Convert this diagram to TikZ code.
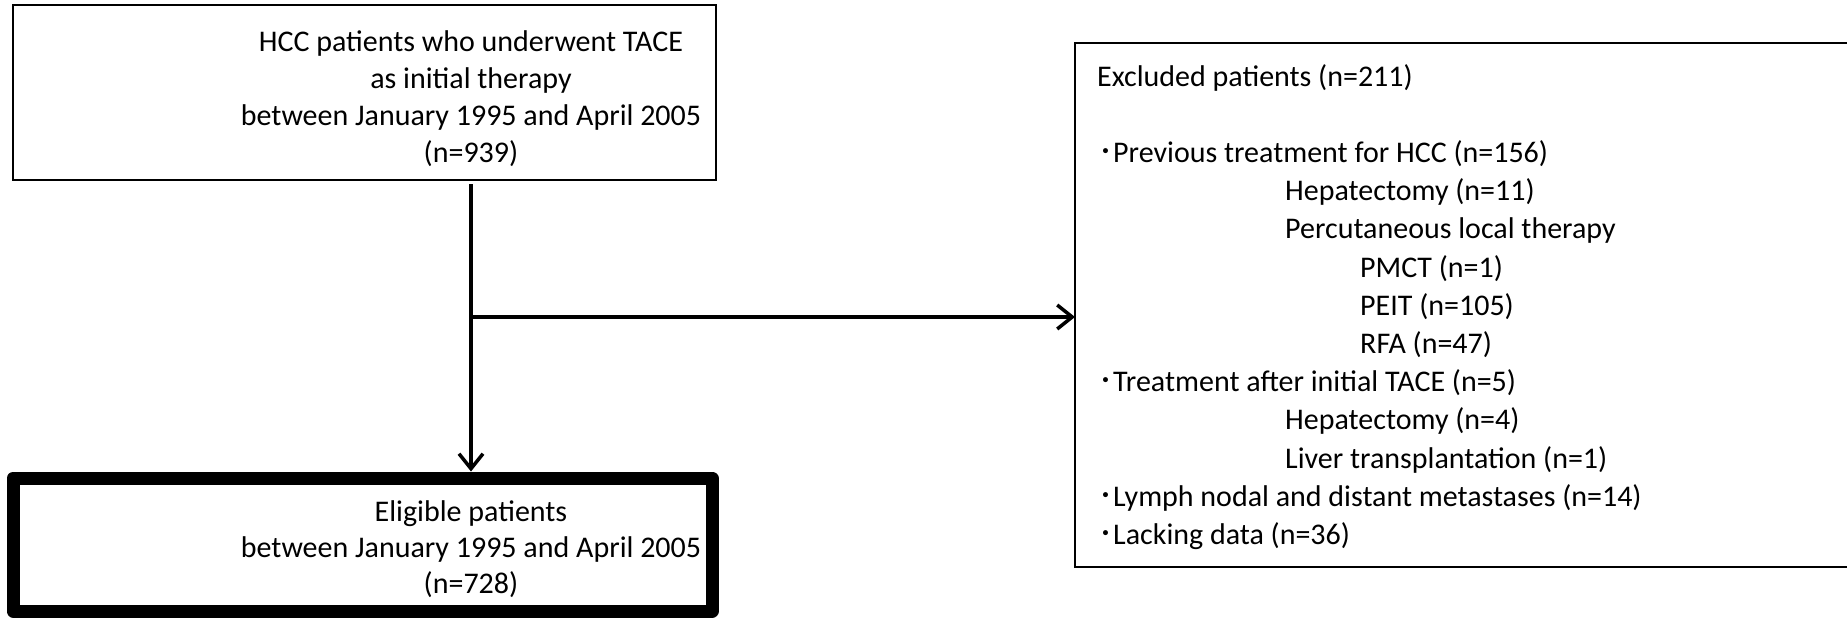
\documentclass[tikz,border=0pt]{standalone}
\usepackage{fontspec}
\setmainfont{Carlito}
\newfontfamily\cjkfont{Noto Sans CJK JP}
\usetikzlibrary{arrows.meta}
\newcommand\bul{{\cjkfont ･}}
\begin{document}
\begin{tikzpicture}[x=1pt,y=-1pt,
  thinbox/.style={draw=black,line width=1.8pt,inner sep=0pt,outer sep=0pt,fill=none},
  thickbox/.style={draw=black,line width=13pt,line join=round,inner sep=0pt,fill=none},
  ltxt/.style={font=\fontsize{30}{37}\selectfont,inner sep=0pt,anchor=base west},
  ctxt/.style={font=\fontsize{30}{37}\selectfont,inner sep=0pt,anchor=base},
  arr/.style={line width=3.5pt,-{Straight Barb[length=15pt,width=24pt]}}
]
\useasboundingbox (0,0) rectangle (1847,619);
\clip (0,0) rectangle (1847,619);
\fill[white] (0,0) rectangle (1847,619);

% top box
\node[thinbox,minimum width=703pt,minimum height=175pt] (top) at (364.5,92.5) {};
\node[ctxt] (t1) at (471,51) {HCC patients who underwent TACE};
\node[ctxt] (t2) at (471,88) {as initial therapy};
\node[ctxt] (t3) at (471,125) {between January 1995 and April 2005};
\node[ctxt] (t4) at (471,162) {(n=939)};

% bottom box
\node[thickbox,minimum width=699pt,minimum height=133pt] (bot) at (362.5,544.5) {};
\node[ctxt] (b1) at (471,521) {Eligible patients};
\node[ctxt] (b2) at (471,557) {between January 1995 and April 2005};
\node[ctxt] (b3) at (471,593) {(n=728)};

% right box
\node[thinbox,minimum width=795pt,minimum height=524pt] (excl) at (1472.5,305) {};
\node[ltxt] (r1) at (1097,86) {Excluded patients (n=211)};
\node[ltxt] (r2) at (1098,162) {\bul Previous treatment for HCC (n=156)};
\node[ltxt] (r3) at (1285,200) {Hepatectomy (n=11)};
\node[ltxt] (r4) at (1285,238) {Percutaneous local therapy};
\node[ltxt] (r5) at (1360,277) {PMCT (n=1)};
\node[ltxt] (r6) at (1360,315) {PEIT (n=105)};
\node[ltxt] (r7) at (1360,353) {RFA (n=47)};
\node[ltxt] (r8) at (1098,391) {\bul Treatment after initial TACE (n=5)};
\node[ltxt] (r9) at (1285,429) {Hepatectomy (n=4)};
\node[ltxt] (r10) at (1285,468) {Liver transplantation (n=1)};
\node[ltxt] (r11) at (1098,506) {\bul Lymph nodal and distant metastases (n=14)};
\node[ltxt] (r12) at (1098,544) {\bul Lacking data (n=36)};

% connectors
\coordinate (j) at (471,317);
\draw[arr] ([yshift=-4pt]t4 |- top.south) -- (t4 |- bot.north);
\draw[arr] ([xshift=-1.75pt]j) -- (j -| excl.west);
\end{tikzpicture}
\end{document}
